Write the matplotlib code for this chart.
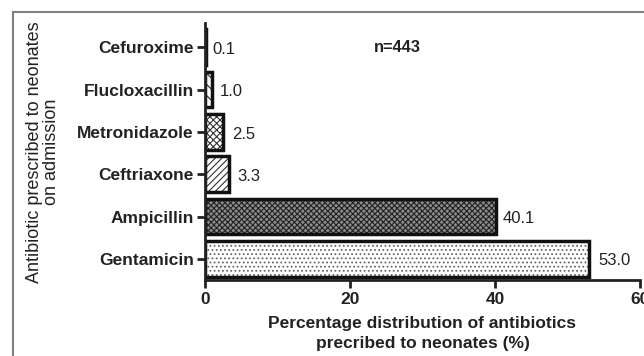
import matplotlib
matplotlib.use("Agg")
import matplotlib.pyplot as plt
from matplotlib.lines import Line2D

plt.rcParams['font.family'] = ['Liberation Sans', 'DejaVu Sans']
plt.rcParams['hatch.linewidth'] = 0.8

drugs = ["Gentamicin", "Ampicillin", "Ceftriaxone", "Metronidazole", "Flucloxacillin", "Cefuroxime"]
values = [53.0, 40.1, 3.3, 2.5, 1.0, 0.1]
value_labels = ["53.0", "40.1", "3.3", "2.5", "1.0", "0.1"]
hatches = ["....", "xxxxxx", "/////", "xxxxx", "\\\\\\", ""]
faces = ["white", "#8c8c8c", "white", "white", "white", "white"]
hatch_cols = ["#666666", "#222222", "#333333", "#333333", "#222222", "black"]
xticks = [0, 20, 40, 60]

fig = plt.figure(figsize=(6.44, 3.56), dpi=100)
ax = fig.add_axes([0.318, 0.2135, 0.676, 0.7215])
pos = list(range(len(drugs)))
for p, v, h, fc, hc in zip(pos, values, hatches, faces, hatch_cols):
    ax.barh(p, v, height=0.84, color=fc, hatch=h, edgecolor=hc, linewidth=0)
ax.barh(pos, values, height=0.84, fill=False, edgecolor="#111111", linewidth=2.5)

offs = [1.3, 1.0, 1.2, 1.2, 1.0, 1.0]
for p, v, lab, o in zip(pos, values, value_labels, offs):
    ax.text(v + o, p - 0.05, lab, va="center", ha="left", fontsize=12, color="#222222")

ax.text(26.6, 5.0, "n=443", fontsize=11.8, fontweight="bold", ha="center", va="center", color="#222222")

ax.set_xlim(0, 60)
ax.set_ylim(-0.5, 5.57)
ax.set_xticks(xticks)
ax.set_xticklabels([str(t) for t in xticks], fontweight="bold", fontsize=12.5, color="#222222")
ax.set_yticks(pos)
ax.set_yticklabels(drugs, fontweight="bold", fontsize=12.5, color="#222222")
for s in ["top", "right"]:
    ax.spines[s].set_visible(False)
for s in ["left", "bottom"]:
    ax.spines[s].set_linewidth(2.0)
    ax.spines[s].set_color("#222222")
ax.tick_params(axis="both", direction="out", length=6, width=2, color="#222222")
ax.tick_params(axis="x", pad=3)
ax.tick_params(axis="y", pad=2)

ax.set_xlabel("Percentage distribution of antibiotics\nprecribed to neonates (%)",
              fontweight="bold", fontsize=12.5, color="#222222", labelpad=6, linespacing=1.4)
fig.text(0.067, 0.573, "Antibiotic prescribed to neonates\non admission", rotation=90,
         fontsize=13, color="#222222", ha="center", va="center", linespacing=1.05)

# outer frame lines
fig.add_artist(Line2D([13/644, 1.0], [1 - 12/356, 1 - 12/356], color="#808080", linewidth=1.5))
fig.add_artist(Line2D([13/644, 13/644], [0, 1 - 12/356], color="#808080", linewidth=1.5))

fig.savefig("out.png", dpi=100)
